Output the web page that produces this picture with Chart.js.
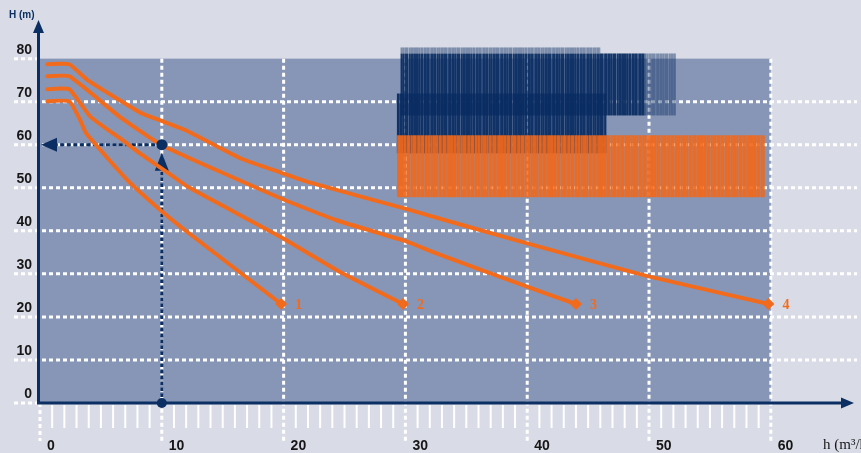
<!DOCTYPE html>
<html>
<head>
<meta charset="utf-8">
<script src="https://cdn.jsdelivr.net/npm/chart.js@4/dist/chart.umd.min.js"></script>
<style>
  html, body { margin: 0; padding: 0; background: #d9dce6; }
  #wrap { width: 861px; height: 453px; position: relative; }
</style>
</head>
<body>
<div id="wrap"><canvas id="curveChart"></canvas></div>
<script>
// axis ticks
const xTicks = [0, 10, 20, 30, 40, 50, 60];
const yTicks = [0, 10, 20, 30, 40, 50, 60, 70, 80];
const curveLabels = ['1', '2', '3', '4'];

// curves
const curve1X = [0.6, 2.4, 3.9, 8.2, 9.8, 12, 16.5, 19.8, 22.2, 29.9, 39.7, 49.7, 59.8];
const curve1Y = [78.7, 78.7, 75, 67.5, 65.7, 63.3, 56.8, 53.5, 51.2, 45.2, 37.3, 29.6, 23];
const curve2X = [0.6, 2.4, 6.5, 10, 19.8, 24.4, 29.9, 32.6, 39.7, 44];
const curve2Y = [75.9, 75.9, 66.6, 59.9, 47.5, 42.4, 37.7, 34.7, 27.3, 23];
const curve3X = [0.6, 2.4, 4.1, 6.8, 8.2, 10.8, 12.2, 19.8, 24.4, 29.8];
const curve3Y = [72.9, 72.9, 66.6, 61, 58, 52.9, 50.1, 38.5, 30.8, 23];
const curve4X = [0.6, 2.4, 3.3, 3.8, 7.2, 9.6, 12.2, 19.8];
const curve4Y = [70.1, 70.1, 65.7, 62.6, 51.7, 45.5, 39.5, 23];

// reading example: x = 10 -> y = 60
const readX = 10;
const readY = 60;

// striped blocks [x0, x1, y0, y1]
const navyBlocks = [[29.6, 49.7, 66.8, 81.2], [49.7, 52.2, 66.8, 81.2], [29.6, 46, 81.2, 82.6], [29.3, 46.5, 58, 71.9]];
const orangeBlocks = [[29.3, 59.5, 47.8, 62.2]];

const ORANGE = '#f26b1d';
const NAVY = '#0b2f62';
const PLOT_BG = '#8796b6';
const PAGE_BG = '#d9dce6';

function pts(xs, ys) {
  return xs.map((x, i) => ({ x: x, y: ys[i] }));
}

function stripes(ctx, rgb, code) {
  const c = document.createElement('canvas');
  c.width = code.length; c.height = 4;
  const g = c.getContext('2d');
  for (let i = 0; i < code.length; i++) {
    g.fillStyle = 'rgba(' + rgb + ',' + (+code[i]) / 9 + ')';
    g.fillRect(i, 0, 1, 4);
  }
  return ctx.createPattern(c, 'repeat');
}

function dotted(ctx, x1, y1, x2, y2, color, width, dash) {
  ctx.save();
  ctx.strokeStyle = color;
  ctx.lineWidth = width;
  ctx.setLineDash(dash);
  ctx.beginPath();
  ctx.moveTo(x1, y1);
  ctx.lineTo(x2, y2);
  ctx.stroke();
  ctx.restore();
}

function arrowHead(ctx, tipX, tipY, dir, len, half) {
  // dir: 'up', 'left', 'right'
  ctx.beginPath();
  ctx.moveTo(tipX, tipY);
  if (dir === 'up') { ctx.lineTo(tipX - half, tipY + len); ctx.lineTo(tipX + half, tipY + len); }
  if (dir === 'left') { ctx.lineTo(tipX + len, tipY - half); ctx.lineTo(tipX + len, tipY + half); }
  if (dir === 'right') { ctx.lineTo(tipX - len, tipY - half); ctx.lineTo(tipX - len, tipY + half); }
  ctx.closePath();
  ctx.fill();
}

const backdrop = {
  id: 'backdrop',
  beforeDatasetsDraw(chart) {
    const ctx = chart.ctx;
    const sx = chart.scales.x, sy = chart.scales.y;
    const px = v => sx.getPixelForValue(v);
    const py = v => sy.getPixelForValue(v);
    ctx.save();
    ctx.fillStyle = PAGE_BG;
    ctx.fillRect(0, 0, chart.width, chart.height);

    // plot field
    ctx.fillStyle = PLOT_BG;
    ctx.fillRect(px(0), py(80), px(60) - px(0), py(0) - py(80));

    // horizontal grid
    yTicks.forEach(v => {
      const y = py(v);
      const right = (v === 0 || v === 80) ? px(0) : 857;
      dotted(ctx, 14, y, right, y, '#ffffff', 3, [4, 3]);
    });
    // vertical grid
    xTicks.forEach(v => {
      const x = px(v);
      const top = v === 0 ? py(0) : py(80);
      dotted(ctx, x, top, x, 441, '#ffffff', 3, [4, 3]);
    });
    // small ruler ticks under the axis
    ctx.strokeStyle = '#ffffff';
    ctx.lineWidth = 2;
    for (let v = 1; v < 60; v++) {
      if (v % 10 === 0) continue;
      ctx.beginPath();
      ctx.moveTo(px(v), py(0) + 2);
      ctx.lineTo(px(v), py(0) + 25);
      ctx.stroke();
    }

    // striped blocks
    const navyPat = stripes(ctx, '10,45,98', '9989799699899779989969897998999689979989799959899899');
    const orangePat = stripes(ctx, '242,104,26', '99989979996989997899799969989979899989699879997899');
    ctx.fillStyle = navyPat;
    navyBlocks.forEach((b, i) => {
      ctx.globalAlpha = (i === 1 || i === 2) ? 0.45 : 0.95;
      ctx.fillRect(px(b[0]), py(b[3]), px(b[1]) - px(b[0]), py(b[2]) - py(b[3]));
    });
    ctx.globalAlpha = 0.92;
    ctx.fillStyle = orangePat;
    orangeBlocks.forEach(b => {
      ctx.fillRect(px(b[0]), py(b[3]), px(b[1]) - px(b[0]), py(b[2]) - py(b[3]));
    });
    ctx.globalAlpha = 1;

    // reading lines
    ctx.fillStyle = NAVY;
    dotted(ctx, px(readX), py(0), px(readX), py(readY) + 24, NAVY, 3, [3.5, 2.5]);
    arrowHead(ctx, px(readX), py(readY) + 8, 'up', 18, 7);
    dotted(ctx, px(readX), py(readY), px(0) + 16, py(readY), NAVY, 3, [4, 2.5]);
    arrowHead(ctx, px(0) + 1, py(readY), 'left', 16, 7);
    ctx.restore();
  },
  afterDatasetsDraw(chart) {
    const ctx = chart.ctx;
    const sx = chart.scales.x, sy = chart.scales.y;
    const px = v => sx.getPixelForValue(v);
    const py = v => sy.getPixelForValue(v);
    ctx.save();
    ctx.fillStyle = NAVY;
    ctx.strokeStyle = NAVY;
    ctx.lineWidth = 3;
    ctx.setLineDash([]);
    // axes
    ctx.beginPath();
    ctx.moveTo(px(0) - 1.5, py(0) + 1);
    ctx.lineTo(px(0) - 1.5, 32);
    ctx.stroke();
    arrowHead(ctx, px(0) - 1.5, 20, 'up', 13, 5.5);
    ctx.beginPath();
    ctx.moveTo(px(0) - 3, py(0));
    ctx.lineTo(842, py(0));
    ctx.stroke();
    arrowHead(ctx, 854, py(0), 'right', 13, 5.5);

    // reading dots
    ctx.beginPath(); ctx.arc(px(readX), py(readY), 5.5, 0, Math.PI * 2); ctx.fill();
    ctx.beginPath(); ctx.arc(px(readX), py(0), 5, 0, Math.PI * 2); ctx.fill();

    // tick labels
    ctx.font = 'bold 14px "Liberation Sans", Arial, sans-serif';
    ctx.fillStyle = '#161616';
    ctx.textAlign = 'right';
    ctx.textBaseline = 'alphabetic';
    yTicks.forEach(v => ctx.fillText(String(v), 32, py(v) - 5));
    ctx.textAlign = 'left';
    xTicks.forEach(v => ctx.fillText(String(v), px(v) + 7, 450));

    // axis titles
    ctx.font = '15px "Liberation Serif", serif';
    ctx.fillText('h (m³/h)', 823, 449);
    ctx.fillStyle = NAVY;
    ctx.font = 'bold 10px "Liberation Sans", Arial, sans-serif';
    ctx.fillText('H (m)', 9, 18);

    // curve labels at the ends
    ctx.fillStyle = ORANGE;
    ctx.font = 'bold 14px "Liberation Serif", serif';
    const ends = [curve4X, curve3X, curve2X, curve1X];
    ends.forEach((xs, i) => {
      ctx.fillText(curveLabels[i], px(xs[xs.length - 1]) + 14, py(23) + 5);
    });
    ctx.restore();
  }
};

function curveSet(xs, ys) {
  return {
    data: pts(xs, ys),
    borderColor: ORANGE,
    backgroundColor: ORANGE,
    borderWidth: 4,
    borderJoinStyle: 'round',
    borderCapStyle: 'round',
    tension: 0.15,
    fill: false,
    pointStyle: 'rectRot',
    pointRadius: c => (c.dataIndex === xs.length - 1 ? 6 : 0),
    pointBorderWidth: 0
  };
}

const chart = new Chart(document.getElementById('curveChart'), {
  type: 'line',
  data: {
    datasets: [
      curveSet(curve1X, curve1Y),
      curveSet(curve2X, curve2Y),
      curveSet(curve3X, curve3Y),
      curveSet(curve4X, curve4Y)
    ]
  },
  options: {
    responsive: true,
    maintainAspectRatio: false,
    animation: false,
    layout: { padding: { left: 40, right: 0, top: 10, bottom: 50 } },
    plugins: {
      legend: { display: false },
      tooltip: { enabled: false }
    },
    scales: {
      x: { type: 'linear', min: 0, max: 66.91, display: false },
      y: { min: 0, max: 91.3, display: false }
    }
  },
  plugins: [backdrop]
});
</script>
</body>
</html>
